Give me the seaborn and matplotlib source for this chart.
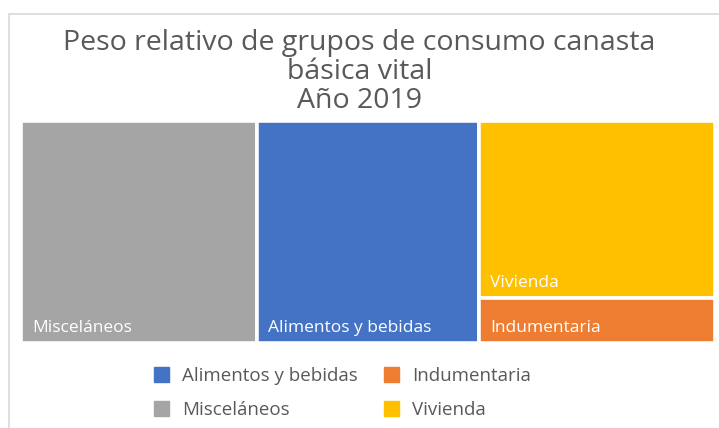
import seaborn as sns
import matplotlib.pyplot as plt
from matplotlib.patches import Patch
from matplotlib.lines import Line2D

# datos (% del total)
categorias = ["Misceláneos", "Alimentos y bebidas", "Vivienda", "Indumentaria"]
valores = [34.0, 32.0, 27.1, 6.9]
colores = ["#a5a5a5", "#4472c4", "#ffc000", "#ed7d31"]
# columnas del treemap (indices de categorias)
columnas = [[0], [1], [2, 3]]
orden_leyenda = ["Alimentos y bebidas", "Indumentaria", "Misceláneos", "Vivienda"]

sns.set_style("white")
plt.rcParams['font.family'] = ['Open Sans', 'DejaVu Sans']

fig = plt.figure(figsize=(7.19, 4.28), dpi=100)
W, H = 719, 428
x0, x1, y0, y1 = 21.2, 715.1, 120.9, 342.8
ax = fig.add_axes([x0 / W, 1 - y1 / H, (x1 - x0) / W, (y1 - y0) / H])

total = sum(valores)
izq = 0.0
for col in columnas:
    suma = sum(valores[i] for i in col)
    ancho = suma / total
    arriba = 1.0
    for i in col:
        alto = valores[i] / suma
        base = arriba - alto
        ax.bar(izq, alto, width=ancho, bottom=base, align="edge",
               color=colores[i], edgecolor="white", linewidth=2.6)
        ax.annotate(categorias[i], (izq, base), xytext=(8, 5),
                    textcoords="offset points", color="white",
                    fontsize=12.5, ha="left", va="bottom")
        arriba = base
    izq += ancho

ax.set_xlim(0, 1)
ax.set_ylim(0, 1)
ax.axis("off")

fig.text(0.5, 1 - 29 / H,
         "Peso relativo de grupos de consumo canasta\nbásica vital\nAño 2019",
         ha="center", va="top", fontsize=20.5, color="#595959", linespacing=1.05)

# borde del area del grafico
fig.add_artist(Line2D([9 / W, 9 / W], [0, 1 - 14 / H], transform=fig.transFigure,
                      color="#d9d9d9", lw=1.2))
fig.add_artist(Line2D([9 / W, 1], [1 - 14 / H, 1 - 14 / H], transform=fig.transFigure,
                      color="#d9d9d9", lw=1.2))

handles = [Patch(color=colores[categorias.index(c)], label=c) for c in orden_leyenda]
# ncol=2 llena por columnas -> reordenar para que quede por filas
handles = [handles[0], handles[2], handles[1], handles[3]]
fig.legend(handles=handles, loc="center", bbox_to_anchor=(0.476, 1 - 393 / H), ncol=2,
           frameon=False, fontsize=13.5, labelcolor="#595959", handlelength=0.8,
           handleheight=0.8, columnspacing=1.4, labelspacing=0.85, handletextpad=0.7)

fig.savefig("out.png", dpi=100)
